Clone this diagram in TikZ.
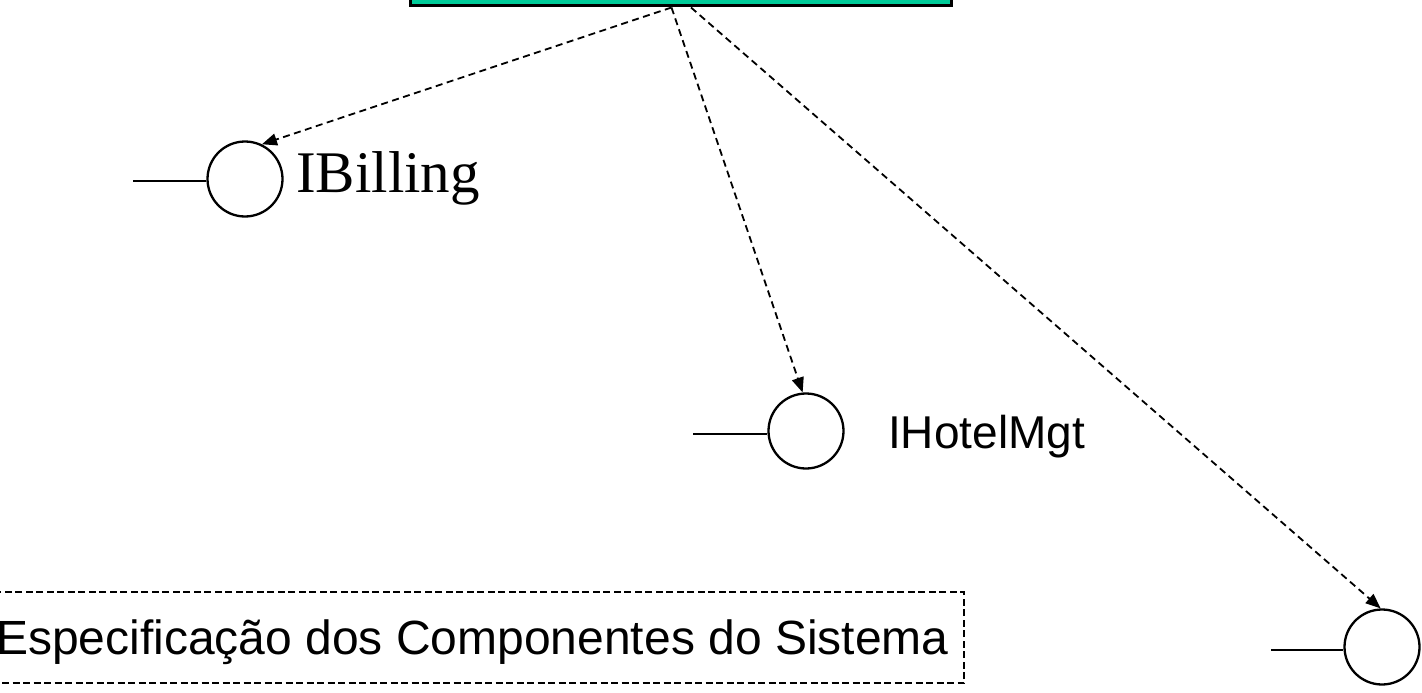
\documentclass[tikz,border=0pt]{standalone}
\usepackage{fontspec}
\setmainfont{Liberation Serif}
\setsansfont{Liberation Sans}
\usetikzlibrary{arrows.meta,calc}
\definecolor{compgreen}{RGB}{0,204,153}
\tikzset{
  component/.style={draw=black, fill=compgreen, line width=3pt, inner sep=0pt,
    minimum width=541pt, minimum height=60pt},
  iface/.style={circle, draw=black, line width=2.3pt, fill=white, inner sep=0pt,
    minimum size=75pt},
  stem/.style={draw=black, line width=2.3pt},
  realizes/.style={draw=black, line width=1.8pt, dash pattern=on 7pt off 4.5pt,
    -{Triangle[length=15pt,width=12pt]}},
  ifacelabel/.style={anchor=base west, inner sep=0pt},
  notebox/.style={draw=black, line width=1.8pt, dash pattern=on 7pt off 3.5pt,
    inner xsep=15.5pt, inner ysep=0pt, minimum height=91pt,
    font=\sffamily\fontsize{48}{58}\selectfont}
}
\begin{document}
\begin{tikzpicture}[x=1pt,y=-1pt]
  \useasboundingbox (0,0) rectangle (1422,693);
  \clip (0,0) rectangle (1422,693);

  % component box, running off the top edge
  \node (comp) [component, anchor=south] at (680.5,7.5) {};
  \coordinate (srcA) at ($(comp.south)+(-9,0)$);
  \coordinate (srcB) at ($(comp.south)+(10.5,0)$);

  % provided interfaces (lollipops)
  \node (bill) [iface] at (245,179) {};
  \coordinate (billstem) at (133,181);
  \draw[stem] (billstem) -- (bill.west |- billstem);
  \node (billtxt) [ifacelabel, font=\rmfamily\fontsize{59}{70}\selectfont] at (296,192) {IBilling};

  \node (hotel) [iface] at (806,431) {};
  \coordinate (hotelstem) at (693,434);
  \draw[stem] (hotelstem) -- (hotel.west |- hotelstem);
  \node (hoteltxt) [ifacelabel, font=\sffamily\fontsize{46}{55}\selectfont] at (888,448) {IHotelMgt};

  \node (third) [iface] at (1382,647) {};
  \coordinate (thirdstem) at (1271,650);
  \draw[stem] (thirdstem) -- (third.west |- thirdstem);

  % dependencies from the component to its interfaces
  \draw[realizes] (srcA) -- (bill.64);
  \draw[realizes] (srcA) -- (hotel.95);
  \draw[realizes] (srcB) -- (third.92);

  % caption box
  \node (spec) [notebox, anchor=east] at (965,637.5)
    {\rule{0pt}{45pt}\makebox[952pt][r]{Especificação dos Componentes do Sistema}};
\end{tikzpicture}
\end{document}
